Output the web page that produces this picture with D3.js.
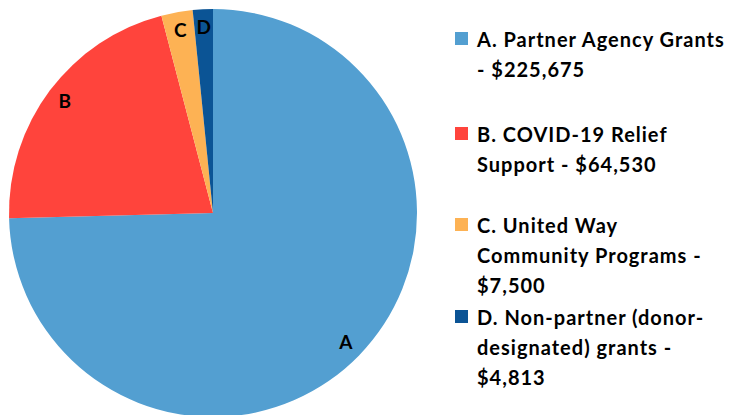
<!DOCTYPE html>
<html>
<head>
<meta charset="utf-8">
<script src="https://cdn.jsdelivr.net/npm/d3@7"></script>
<style>
  body { margin: 0; background: #fff; }
  svg { display: block; font-family: Lato, "Open Sans", sans-serif; font-weight: bold; }
</style>
</head>
<body>
<div id="chart"></div>
<script>
// chart data
var keys = ["A", "B", "C", "D"];
var amounts = [225675, 64530, 7500, 4813];
var legendLines = [
  ["A. Partner Agency Grants", "- $225,675"],
  ["B. COVID-19 Relief", "Support - $64,530"],
  ["C. United Way", "Community Programs -", "$7,500"],
  ["D. Non-partner (donor-", "designated) grants -", "$4,813"]
];
var colors = ["#539FD1", "#FF443C", "#FDB254", "#0B5495"];

var width = 734, height = 415;
var cx = 213, cy = 213, radius = 204;

var svg = d3.select("#chart")
  .append("svg")
  .attr("width", width)
  .attr("height", height);

var pie = d3.pie().sort(null).value(function (d) { return d; });
var arcs = pie(amounts);

var arc = d3.arc().innerRadius(0).outerRadius(radius);
var labelArc = d3.arc().innerRadius(radius * 0.91).outerRadius(radius * 0.91);

var g = svg.append("g").attr("transform", "translate(" + cx + "," + cy + ")");

g.selectAll("path")
  .data(arcs)
  .enter()
  .append("path")
  .attr("d", arc)
  .attr("fill", function (d, i) { return colors[i]; });

// slice letters
g.selectAll("text.lbl")
  .data(arcs)
  .enter()
  .append("text")
  .attr("class", "lbl")
  .attr("transform", function (d) { return "translate(" + labelArc.centroid(d) + ")"; })
  .attr("text-anchor", "middle")
  .attr("dy", "0.35em")
  .style("font-size", "19px")
  .style("fill", "#000")
  .text(function (d, i) { return keys[i]; });

// legend
var legendTop = [32, 127, 218, 310];
var legend = svg.append("g");
legendLines.forEach(function (lines, i) {
  var row = legend.append("g").attr("transform", "translate(455," + legendTop[i] + ")");
  row.append("rect")
    .attr("width", 13)
    .attr("height", 13)
    .attr("fill", colors[i]);
  var t = row.append("text")
    .attr("x", 22)
    .attr("y", 15)
    .style("font-size", "20px")
    .style("letter-spacing", "1px")
    .style("fill", "#000");
  lines.forEach(function (s, j) {
    t.append("tspan").attr("x", 22).attr("dy", j === 0 ? 0 : 30).text(s);
  });
});
</script>
</body>
</html>
